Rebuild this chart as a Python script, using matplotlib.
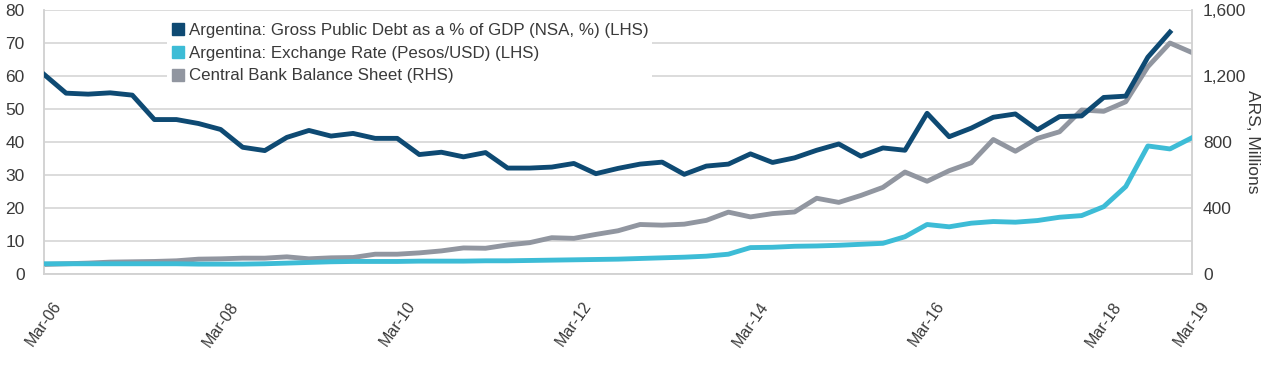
import matplotlib
matplotlib.use("Agg")
import matplotlib.pyplot as plt
from matplotlib.ticker import FuncFormatter, MultipleLocator
from matplotlib.lines import Line2D

plt.rcParams['font.family'] = ['Liberation Sans', 'DejaVu Sans']

# Quarterly, Mar-06 .. Mar-19
quarters = [f"{m}-{y:02d}" for y in range(6, 20) for m in ("Mar", "Jun", "Sep", "Dec")][:53]

debt_pct_gdp = [60.5, 54.8, 54.5, 54.9, 54.2, 46.8, 46.8, 45.6, 43.8, 38.4,
                37.4, 41.4, 43.5, 41.8, 42.6, 41.1, 41.1, 36.2, 36.9, 35.5,
                36.8, 32.1, 32.1, 32.4, 33.5, 30.4, 32.0, 33.3, 33.9, 30.2,
                32.7, 33.3, 36.4, 33.8, 35.2, 37.5, 39.4, 35.7, 38.2, 37.5,
                48.7, 41.6, 44.2, 47.5, 48.5, 43.7, 47.7, 47.9, 53.5, 53.9,
                65.7, 73.3]

fx_pesos_usd = [3.1, 3.1, 3.1, 3.1, 3.1, 3.1, 3.1, 3.0, 3.0, 3.0,
                3.1, 3.3, 3.5, 3.7, 3.8, 3.8, 3.8, 3.9, 3.9, 3.9,
                4.0, 4.0, 4.1, 4.2, 4.3, 4.4, 4.5, 4.7, 4.9, 5.1,
                5.4, 6.0, 8.0, 8.1, 8.4, 8.5, 8.7, 9.0, 9.3, 11.3,
                15.0, 14.3, 15.4, 15.9, 15.7, 16.2, 17.2, 17.7, 20.4, 26.5,
                38.8, 37.9, 41.3]

cb_balance_sheet = [58, 62, 66, 72, 74, 76, 80, 90, 92, 96,
                    96, 104, 92, 98, 100, 120, 120, 128, 140, 158,
                    156, 176, 190, 220, 216, 240, 262, 300, 296, 302,
                    325, 375, 346, 366, 376, 459, 434, 476, 525, 618,
                    562, 626, 674, 815, 744, 822, 862, 994, 986, 1044,
                    1256, 1400, 1342]

tick_labels = ["Mar-06", "Mar-08", "Mar-10", "Mar-12", "Mar-14", "Mar-16", "Mar-18", "Mar-19"]

series_names = ["Argentina: Gross Public Debt as a % of GDP (NSA, %) (LHS)",
                "Argentina: Exchange Rate (Pesos/USD) (LHS)",
                "Central Bank Balance Sheet (RHS)"]

c_debt = "#0e4a73"
c_fx = "#3dbcd6"
c_cb = "#9196a0"
grid_c = "#d2d2d2"
text_c = "#3a3a3a"

fig = plt.figure(figsize=(12.8, 3.68), dpi=100)
ax = fig.add_axes([44/1280, 1-274/368, (1192-44)/1280, (274-10)/368])
ax2 = ax.twinx()

x_all = list(range(len(quarters)))

ax.set_zorder(2)
ax2.set_zorder(1)
ax.patch.set_visible(False)

lw = 3.5
ax.plot(x_all[:len(debt_pct_gdp)], debt_pct_gdp, color=c_debt, lw=lw, solid_joinstyle='round', zorder=5)
ax.plot(x_all[:len(fx_pesos_usd)], fx_pesos_usd, color=c_fx, lw=lw, solid_joinstyle='round', zorder=4)
ax2.plot(x_all[:len(cb_balance_sheet)], cb_balance_sheet, color=c_cb, lw=lw, solid_joinstyle='round', zorder=3)

ax.set_xlim(0, len(quarters) - 1)
ax.set_ylim(0, 80)
ax2.set_ylim(0, 1600)
ax.yaxis.set_major_locator(MultipleLocator(10))
ax2.yaxis.set_major_locator(MultipleLocator(400))
ax2.yaxis.set_major_formatter(FuncFormatter(lambda v, p: f"{int(v):,}"))

# gridlines on the secondary (lower) axes so legend covers them
for v in range(0, 81, 10):
    ax2.axhline(v * 20, color=grid_c, lw=1.1, zorder=0)

tick_pos = [quarters.index(t) for t in tick_labels]
ax.set_xticks(tick_pos)
ax.set_xticklabels(tick_labels, rotation=55, fontsize=11.5, color=text_c, ha='center')
ax.tick_params(axis='x', length=0, pad=18)
ax.tick_params(axis='y', length=0, pad=14, labelsize=12.5, labelcolor=text_c)
ax2.tick_params(axis='y', length=0, pad=8, labelsize=12.5, labelcolor=text_c)
ax2.tick_params(axis='x', length=0)

for a in (ax, ax2):
    for s in ('top',):
        a.spines[s].set_visible(False)
    for s in ('left', 'right', 'bottom'):
        a.spines[s].set_color(grid_c)
        a.spines[s].set_linewidth(1.1)

ax2.set_ylabel("ARS, Millions", rotation=270, fontsize=12.5, color=text_c, labelpad=10)

handles = [Line2D([], [], marker='s', ls='none', color=c, markersize=8) for c in (c_debt, c_fx, c_cb)]
leg = ax.legend(handles, series_names, loc='upper left', bbox_to_anchor=(0.10, 0.995),
                frameon=True, fontsize=12.2, handletextpad=0.2, labelspacing=0.45,
                borderpad=0.2, handlelength=0.9, labelcolor=text_c)
leg.get_frame().set_facecolor('white')
leg.get_frame().set_edgecolor('none')
leg.get_frame().set_alpha(1)

fig.savefig("out.png", dpi=100, facecolor='white')
